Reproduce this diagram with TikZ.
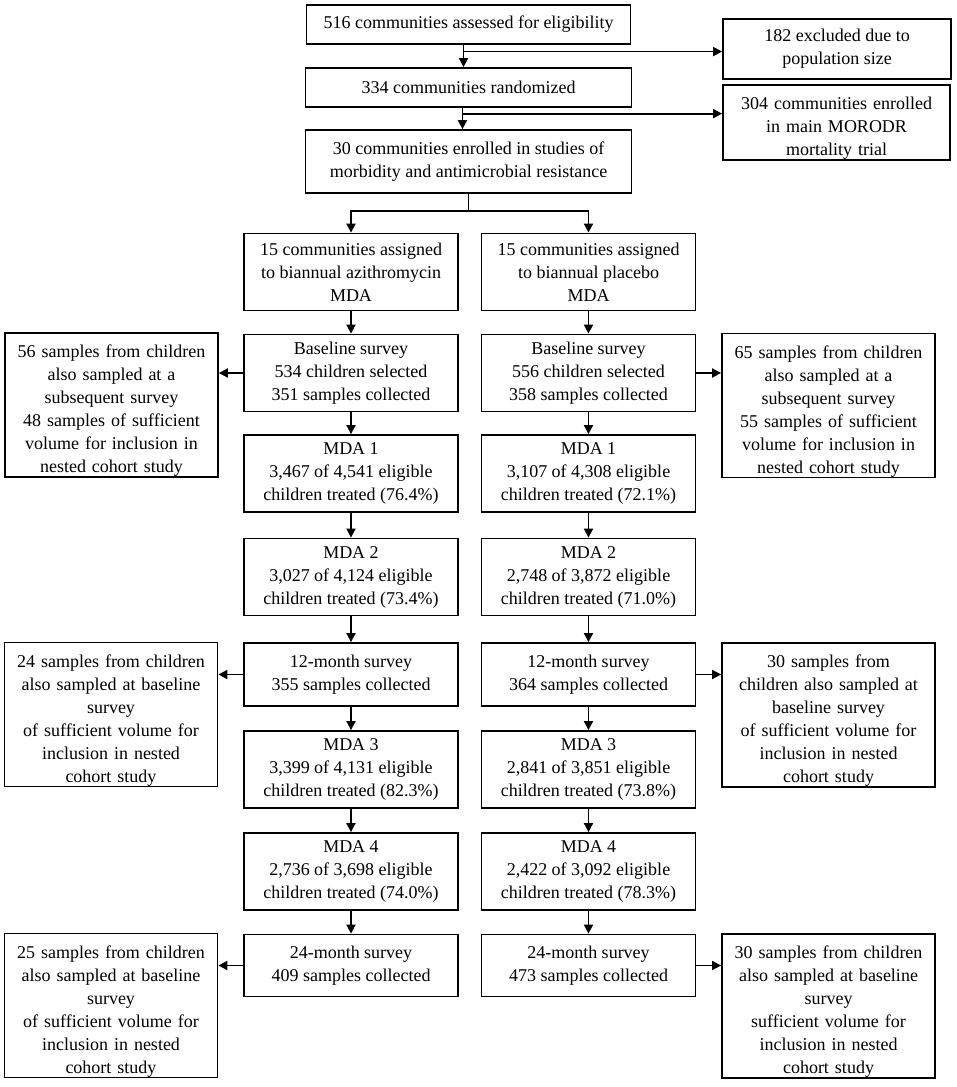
\documentclass[tikz,border=0pt]{standalone}
\usepackage{fontspec}
\setmainfont{Liberation Serif}
\usetikzlibrary{positioning, arrows.meta, calc}

\begin{document}
\begin{tikzpicture}[x=1pt, y=-1pt,
  box/.style={draw, line width=1.8pt, align=center, inner sep=2pt,
    font=\fontsize{18}{23}\selectfont},
  lowtext/.style={inner ysep=0pt, text height=24pt},
  colbox/.style={box, minimum width=214pt, minimum height=77pt},
  sidebox/.style={box, lowtext, text width=207pt, minimum width=213pt,
    minimum height=144pt},
  arr/.style={line width=1.8pt, -{Triangle[length=9pt, width=9pt]}}]
\useasboundingbox (0,0) rectangle (957,1087);

% Enrolment
\node[box, minimum width=324pt, minimum height=39pt] (assess) at (468.5,24.5)
  {516 communities assessed for eligibility};
\node[box, minimum width=228pt, minimum height=60pt] (excl) at (837,49)
  {182 excluded due to\\population size};
\node[box, minimum width=326pt, minimum height=39pt] (rand) at (468.5,87.5)
  {334 communities randomized};
\node[box, lowtext, text width=221pt, minimum width=227pt, minimum height=75pt]
  (main) at (836.5,122.5)
  {304 communities enrolled\\in main MORODR\\mortality trial};
\node[box, minimum width=326pt, minimum height=63pt] (enr) at (468.5,161.5)
  {30 communities enrolled in studies of\\morbidity and antimicrobial resistance};

\draw[arr] ([xshift=-5pt]assess.south) -- ([xshift=-5pt]assess.south |- rand.north);
\coordinate (sp1) at ($([xshift=-5pt]assess.south)!0.3!([xshift=-5pt]rand.north)$);
\draw[arr] (sp1) -- (sp1 -| excl.west);
\draw[arr] ([xshift=-6pt]rand.south) -- ([xshift=-6pt]rand.south |- enr.north);
\coordinate (sp2) at ($([xshift=-6pt]rand.south)!0.27!([xshift=-6pt]enr.north)$);
\draw[arr] (sp2) -- (sp2 -| main.west);

% Allocation
\node[colbox] (az) at (351,272)
  {15 communities assigned\\to biannual azithromycin\\MDA};
\node[colbox] (pl) at (588.5,272)
  {15 communities assigned\\to biannual placebo\\MDA};
\draw[arr] (enr.south) -- ++(0,17) -| (az.north);
\draw[arr] (enr.south) -- ++(0,17) -| (pl.north);

% Azithromycin arm
\node[colbox] (baseA) at (351,373)
  {Baseline survey\\534 children selected\\351 samples collected};
\node[colbox] (mda1A) at (351,473.5)
  {MDA 1\\3,467 of 4,541 eligible\\children treated (76.4\%)};
\node[colbox] (mda2A) at (351,577)
  {MDA 2\\3,027 of 4,124 eligible\\children treated (73.4\%)};
\node[colbox, minimum height=63pt] (m12A) at (351,674.5)
  {12-month survey\\355 samples collected};
\node[colbox] (mda3A) at (351,769.5)
  {MDA 3\\3,399 of 4,131 eligible\\children treated (82.3\%)};
\node[colbox] (mda4A) at (351,871.5)
  {MDA 4\\2,736 of 3,698 eligible\\children treated (74.0\%)};
\node[colbox, minimum height=62pt] (m24A) at (351,965.5)
  {24-month survey\\409 samples collected};

% Placebo arm
\node[colbox] (baseP) at (588.5,373)
  {Baseline survey\\556 children selected\\358 samples collected};
\node[colbox] (mda1P) at (588.5,473.5)
  {MDA 1\\3,107 of 4,308 eligible\\children treated (72.1\%)};
\node[colbox] (mda2P) at (588.5,577)
  {MDA 2\\2,748 of 3,872 eligible\\children treated (71.0\%)};
\node[colbox, minimum height=63pt] (m12P) at (588.5,674.5)
  {12-month survey\\364 samples collected};
\node[colbox] (mda3P) at (588.5,769.5)
  {MDA 3\\2,841 of 3,851 eligible\\children treated (73.8\%)};
\node[colbox] (mda4P) at (588.5,871.5)
  {MDA 4\\2,422 of 3,092 eligible\\children treated (78.3\%)};
\node[colbox, minimum height=62pt] (m24P) at (588.5,965.5)
  {24-month survey\\473 samples collected};

\foreach \a/\b in {az/baseA, baseA/mda1A, mda1A/mda2A, mda2A/m12A,
    m12A/mda3A, mda3A/mda4A, mda4A/m24A,
    pl/baseP, baseP/mda1P, mda1P/mda2P, mda2P/m12P,
    m12P/mda3P, mda3P/mda4P, mda4P/m24P}{
  \draw[arr] (\a.south) -- (\a.south |- \b.north);
}

% Nested cohort samples
\node[sidebox] (cohA0) at (111.5,405)
  {56 samples from children\\also sampled at a\\subsequent survey\\48 samples of sufficient\\volume for inclusion in\\nested cohort study};
\node[sidebox] (cohP0) at (828.5,405.5)
  {65 samples from children\\also sampled at a\\subsequent survey\\55 samples of sufficient\\volume for inclusion in\\nested cohort study};
\node[sidebox] (cohA12) at (111,714.5)
  {24 samples from children\\also sampled at baseline\\survey\\of sufficient volume for\\inclusion in nested\\cohort study};
\node[sidebox] (cohP12) at (828.5,715)
  {30 samples from\\children also sampled at\\baseline survey\\of sufficient volume for\\inclusion in nested\\cohort study};
\node[sidebox] (cohA24) at (111,1005.5)
  {25 samples from children\\also sampled at baseline\\survey\\of sufficient volume for\\inclusion in nested\\cohort study};
\node[sidebox] (cohP24) at (828.5,1006)
  {30 samples from children\\also sampled at baseline\\survey\\sufficient volume for\\inclusion in nested\\cohort study};

\draw[arr] (baseA.west) -- (baseA.west -| cohA0.east);
\draw[arr] (baseP.east) -- (baseP.east -| cohP0.west);
\draw[arr] (m12A.west) -- (m12A.west -| cohA12.east);
\draw[arr] (m12P.east) -- (m12P.east -| cohP12.west);
\draw[arr] (m24A.west) -- (m24A.west -| cohA24.east);
\draw[arr] (m24P.east) -- (m24P.east -| cohP24.west);
\end{tikzpicture}
\end{document}
